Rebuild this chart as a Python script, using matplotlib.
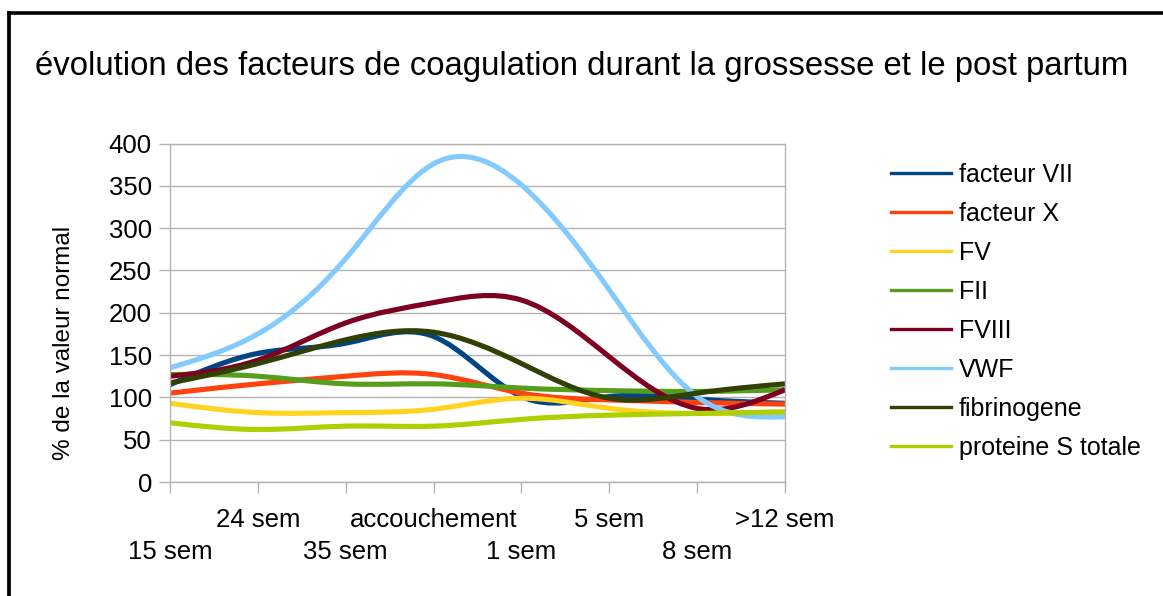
import numpy as np
import matplotlib
matplotlib.use("Agg")
import matplotlib.pyplot as plt
from matplotlib.path import Path
from matplotlib.patches import PathPatch
from matplotlib.lines import Line2D

plt.rcParams['font.family'] = ['Liberation Sans', 'DejaVu Sans']

categories = ["15 sem", "24 sem", "35 sem", "accouchement", "1 sem", "5 sem", "8 sem", ">12 sem"]

facteur_vii = [115, 152, 164, 172, 101, 101, 98, 93]
facteur_x = [105, 116, 125, 127, 105, 97, 94, 92]
fv = [93, 82, 82, 86, 99, 87, 81, 82]
fii = [127, 125, 116, 116, 111, 108, 107, 109]
fviii = [125, 144, 188, 212, 215, 148, 87, 109]
vwf = [135, 175, 264, 376, 351, 227, 101, 77]
fibrinogene = [117, 140, 168, 177, 140, 99, 105, 116]
proteine_s = [70, 62, 66, 66, 74, 79, 81, 83]

series_names = ["facteur VII", "facteur X", "FV", "FII", "FVIII", "VWF", "fibrinogene", "proteine S totale"]
series_values = [facteur_vii, facteur_x, fv, fii, fviii, vwf, fibrinogene, proteine_s]
colors = ["#004586", "#ff420e", "#ffd320", "#579d1c", "#7e0021", "#83caff", "#314004", "#aecf00"]


def spline_path(x, y):
    # natural cubic spline, drawn as bezier segments
    x = np.asarray(x, float)
    y = np.asarray(y, float)
    n = len(x)
    h = np.diff(x)
    A = np.zeros((n, n))
    b = np.zeros(n)
    A[0, 0] = A[-1, -1] = 1
    for i in range(1, n - 1):
        A[i, i - 1] = h[i - 1]
        A[i, i] = 2 * (h[i - 1] + h[i])
        A[i, i + 1] = h[i]
        b[i] = 6 * ((y[i + 1] - y[i]) / h[i] - (y[i] - y[i - 1]) / h[i - 1])
    M = np.linalg.solve(A, b)
    verts = [(x[0], y[0])]
    codes = [Path.MOVETO]
    for i in range(n - 1):
        s = (y[i + 1] - y[i]) / h[i]
        d0 = s - h[i] * (2 * M[i] + M[i + 1]) / 6
        d1 = s + h[i] * (M[i] + 2 * M[i + 1]) / 6
        verts += [(x[i] + h[i] / 3, y[i] + d0 * h[i] / 3),
                  (x[i + 1] - h[i] / 3, y[i + 1] - d1 * h[i] / 3),
                  (x[i + 1], y[i + 1])]
        codes += [Path.CURVE4] * 3
    return Path(verts, codes)


W, H = 1163, 596
fig = plt.figure(figsize=(W / 100, H / 100), dpi=100)
ax = fig.add_axes([170 / W, 1 - 482 / H, (785 - 170) / W, (482 - 143.5) / H])

xs = np.arange(len(categories))
for name, vals, c in zip(series_names, series_values, colors):
    ax.add_patch(PathPatch(spline_path(xs, vals), fill=False, edgecolor=c, lw=3.7,
                           capstyle='butt', joinstyle='round'))

ax.set_xlim(0, len(categories) - 1)
ax.set_ylim(0, 400)
ax.set_yticks(range(0, 401, 50))

# staggered category labels: odd ones on major ticks (upper row), even ones on minor ticks (lower row)
ax.set_xticks(xs[1::2])
ax.set_xticklabels(categories[1::2])
ax.set_xticks(xs[0::2], minor=True)
ax.set_xticklabels(categories[0::2], minor=True)

ax.yaxis.grid(True, color='#b3b3b3', lw=1)
ax.set_axisbelow(True)
for sp in ax.spines.values():
    sp.set_color('#b3b3b3')
    sp.set_linewidth(1)
ax.tick_params(axis='both', which='both', direction='out', length=8, width=1, color='#b3b3b3', labelsize=18.5)
ax.tick_params(axis='x', which='major', pad=10.5)
ax.tick_params(axis='x', which='minor', pad=33.5)
ax.tick_params(axis='y', pad=5)

fig.text(582 / W, 1 - 75 / H, "évolution des facteurs de coagulation durant la grossesse et le post partum",
         ha='center', va='baseline', fontsize=23.7)
fig.text(64.5 / W, 1 - 342.5 / H, "% de la valeur normal", rotation=90,
         ha='center', va='center', fontsize=17.5)

handles = [Line2D([], [], color=c, lw=2.4) for c in colors]
fig.legend(handles, series_names, loc='upper left', bbox_to_anchor=(891 / W, 1 - 163 / H),
           frameon=False, fontsize=18, handlelength=2.4, handletextpad=0.32,
           labelspacing=0.6, borderpad=0, borderaxespad=0)

# outer frame (left and top only)
fig.add_artist(Line2D([9.2 / W, 9.2 / W], [0, 1 - 10.7 / H], transform=fig.transFigure,
                      color='black', lw=2.7, solid_capstyle='butt'))
fig.add_artist(Line2D([7.3 / W, 1], [1 - 12.5 / H, 1 - 12.5 / H], transform=fig.transFigure,
                      color='black', lw=2.6, solid_capstyle='butt'))

fig.savefig("out.png", dpi=100)
